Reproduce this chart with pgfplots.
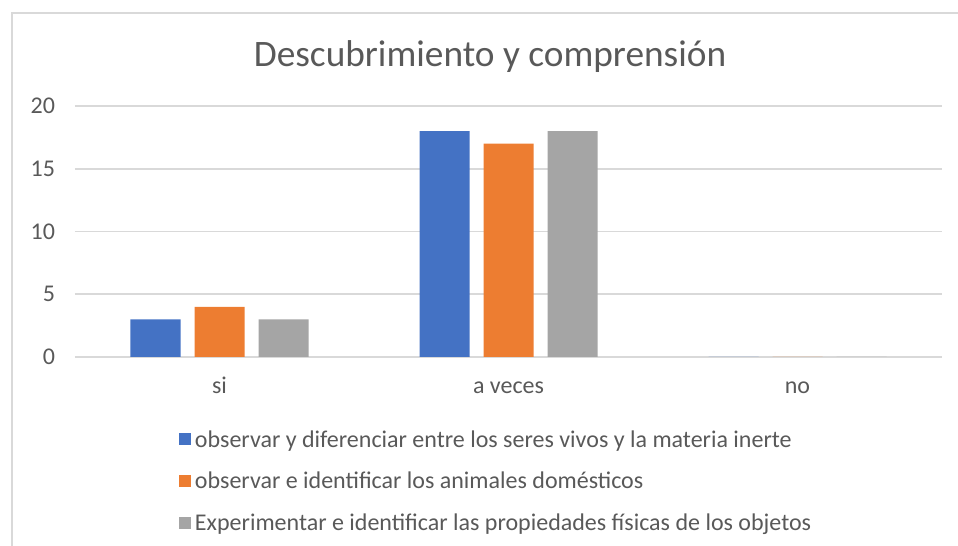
\documentclass[border=0pt]{standalone}
\usepackage{pgfplots}
\pgfplotsset{compat=1.18}
\usepackage{fontspec}
\setmainfont{Carlito}
\definecolor{cblue}{HTML}{4472C4}
\definecolor{corange}{HTML}{ED7D31}
\definecolor{cgray}{HTML}{A5A5A5}
\definecolor{ctext}{HTML}{595959}
\definecolor{cgrid}{HTML}{D9D9D9}
\begin{document}
\begin{tikzpicture}
\path[use as bounding box] (0,0) rectangle (718.5pt,409.5pt);
\draw[cgrid, line width=1.2pt] (8.8pt,-5pt) -- (8.8pt,399.75pt) -- (725pt,399.75pt);
\node[text=ctext, font=\fontsize{28}{32}\selectfont] at (367.5pt,366.75pt) {Descubrimiento y comprensión};
\begin{axis}[
  at={(56.25pt,141.75pt)}, anchor=south west,
  scale only axis, width=650.25pt, height=188.25pt,
  xmin=-0.5, xmax=2.5, ymin=0, ymax=20,
  xtick={0,1,2}, xticklabels={si,a veces,no},
  ytick={0,5,10,15,20},
  ymajorgrids, grid style={cgrid, line width=1.2pt},
  axis line style={draw=none},
  major tick length=0pt,
  tick label style={text=ctext, font=\fontsize{18}{20}\selectfont},
  /pgf/number format/assume math mode=true,
  yticklabel style={xshift=-11.5pt},
  xticklabel style={anchor=base, yshift=-27.75pt},
  clip=false,
  legend cell align=left,
  legend style={draw=none, fill=none, at={(0.115,-0.27)}, anchor=north west,
    font=\fontsize{18}{20}\selectfont, text=ctext, row sep=13.4pt,
    /tikz/every odd column/.append style={column sep=1pt}},
  legend image code/.code={\fill[#1, draw=none] (0pt,-4pt) rectangle (9pt,5pt);},
]
\addplot[ybar, bar width=37.5pt, bar shift=-48pt, fill=cblue, draw=none] coordinates {(0,3) (1,18) (2,0)};
\addplot[ybar, bar width=37.5pt, bar shift=0pt, fill=corange, draw=none] coordinates {(0,4) (1,17) (2,0)};
\addplot[ybar, bar width=37.5pt, bar shift=48pt, fill=cgray, draw=none] coordinates {(0,3) (1,18) (2,0)};
\legend{observar y diferenciar entre los seres vivos y la materia inerte,
observar e identificar los animales domésticos,
Experimentar e identificar las propiedades físicas de los objetos}
\end{axis}
\end{tikzpicture}
\end{document}
